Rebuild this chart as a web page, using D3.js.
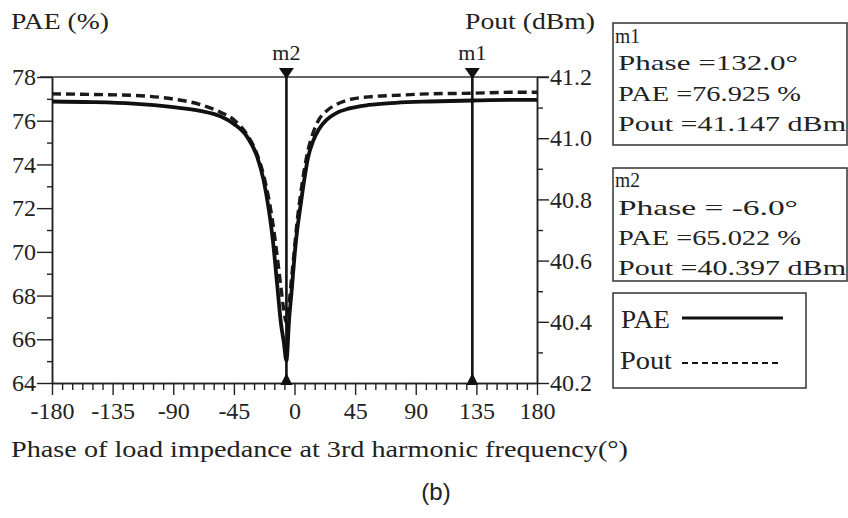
<!DOCTYPE html>
<html><head><meta charset="utf-8">
<script src="https://cdn.jsdelivr.net/npm/d3@7"></script>
<style>body{margin:0;background:#fff} svg text{font-family:"Liberation Serif","Times New Roman",Times,serif}</style>
</head><body><svg id="c" width="848" height="518"></svg>
<script>
// ---- data ----
const phase = [-180,-150,-120,-90,-70,-55,-45,-35,-28,-23,-19,-16,-13,-10,-8,-6,-4,-2,0,2,4,7,10,14,18,24,31,40,55,75,100,132,160,180];
const pae   = [76.88,76.85,76.78,76.62,76.45,76.2,75.85,75.25,74.4,73.3,71.9,70.5,68.6,66.7,65.9,65.022,66.9,68.3,69.8,71.0,71.9,73.2,74.3,75.1,75.6,76.05,76.35,76.55,76.72,76.82,76.88,76.925,76.95,76.95];
const pout  = [41.145,41.143,41.14,41.128,41.11,41.085,41.06,41.01,40.95,40.88,40.80,40.72,40.62,40.51,40.44,40.397,40.46,40.55,40.64,40.73,40.80,40.89,40.96,41.02,41.06,41.09,41.11,41.125,41.135,41.14,41.145,41.147,41.15,41.15];
const xTicks = [-180,-135,-90,-45,0,45,90,135,180];
const paeTicks = [64,66,68,70,72,74,76,78];
const poutTicks = [40.2,40.4,40.6,40.8,41.0,41.2];
const markerNames = ["m1","m2"];
const markerPhase = [132.0,-6.0];
const markerPAE = [76.925,65.022];
const markerPout = [41.147,40.397];
const legendNames = ["PAE","Pout"];

const FONT = '"Liberation Serif","Times New Roman",Times,serif';
const svg = d3.select("#c");
const x = d3.scaleLinear().domain([-180,180]).range([52,537]);
const yL = d3.scaleLinear().domain([64,78]).range([383,77]);
const yR = d3.scaleLinear().domain([40.2,41.2]).range([383,77]);

function styleAxis(g){
  g.attr("font-family",null).attr("font-size",null);
  g.selectAll("path.domain").attr("stroke","#222").attr("stroke-width",1.5);
  g.selectAll(".tick line").attr("stroke","#222").attr("stroke-width",1.4);
  g.selectAll(".tick text").attr("fill","#222").style("font-family",FONT).style("font-size","24px");
}
function txt(xp,yp,size,t){
  return svg.append("text").attr("x",xp).attr("y",yp).style("font-family",FONT)
    .style("font-size",size+"px").attr("fill","#222").text(t);
}

// frame top line
svg.append("line").attr("x1",x(-180)-12).attr("x2",x(180)+12).attr("y1",yL(78)).attr("y2",yL(78))
  .attr("stroke","#333").attr("stroke-width",1.4);

// minor ticks
const xMinor = d3.range(-180,180.01,7.5).filter(v=>v%45!==0);
svg.append("g").attr("transform",`translate(0,${yL(64)})`)
  .call(d3.axisBottom(x).tickValues(xMinor).tickSize(7).tickFormat("").tickSizeOuter(0)).call(styleAxis);
svg.append("g").attr("transform",`translate(${x(-180)},0)`)
  .call(d3.axisLeft(yL).tickValues(d3.range(65,78,2)).tickSize(5).tickFormat("").tickSizeOuter(0)).call(styleAxis);
svg.append("g").attr("transform",`translate(${x(180)},0)`)
  .call(d3.axisRight(yR).tickValues([40.3,40.5,40.7,40.9,41.1]).tickSize(6).tickFormat("").tickSizeOuter(0)).call(styleAxis);

// major axes
svg.append("g").attr("transform",`translate(0,${yL(64)})`)
  .call(d3.axisBottom(x).tickValues(xTicks).tickSize(12).tickPadding(7).tickSizeOuter(0)
    .tickFormat(d=>String(d))).call(styleAxis);
svg.append("g").attr("transform",`translate(${x(-180)},0)`)
  .call(d3.axisLeft(yL).tickValues(paeTicks).tickSize(15).tickPadding(1).tickSizeOuter(0)).call(styleAxis);
svg.append("g").attr("transform",`translate(${x(180)},0)`)
  .call(d3.axisRight(yR).tickValues(poutTicks).tickSize(12).tickPadding(1).tickSizeOuter(0)
    .tickFormat(d=>d.toFixed(1))).call(styleAxis);

// curves
const lineP = d3.line().x((d,i)=>x(phase[i])).y(d=>yL(d)).curve(d3.curveMonotoneX);
const lineQ = d3.line().x((d,i)=>x(phase[i])).y(d=>yR(d)).curve(d3.curveMonotoneX);
svg.append("path").attr("d",lineQ(pout)).attr("fill","none").attr("stroke","#1a1a1a")
  .attr("stroke-width",3.4).attr("stroke-dasharray","9,5");
svg.append("path").attr("d",lineP(pae)).attr("fill","none").attr("stroke","#111")
  .attr("stroke-width",3.8);

// markers
markerNames.forEach((n,i)=>{
  const mx = x(markerPhase[i]);
  const top = yL(78), bot = yL(64);
  svg.append("line").attr("x1",mx).attr("x2",mx).attr("y1",top-4).attr("y2",bot)
    .attr("stroke","#111").attr("stroke-width",2.6);
  svg.append("path").attr("d",`M${mx-7.5},${top-9}L${mx+7.5},${top-9}L${mx},${top+2}Z`).attr("fill","#111");
  svg.append("path").attr("d",`M${mx-6},${bot+2}L${mx+6},${bot+2}L${mx},${bot-10}Z`).attr("fill","#111");
  txt(mx,top-17,22,n).attr("text-anchor","middle");
});

// axis titles
txt(11,29,24,"PAE (%)").attr("textLength",98).attr("lengthAdjust","spacingAndGlyphs");
txt(465,29,24,"Pout (dBm)").attr("textLength",130).attr("lengthAdjust","spacingAndGlyphs");
txt(11,457,23,"Phase of load impedance at 3rd harmonic frequency(°)")
  .attr("textLength",617).attr("lengthAdjust","spacingAndGlyphs");
svg.append("text").attr("x",436).attr("y",500).attr("text-anchor","middle")
  .style("font-family","'Liberation Sans',Arial,sans-serif").style("font-size","24px").attr("fill","#222").text("(b)");

// marker readout boxes
function readout(i, top, bottom, ys){
  svg.append("rect").attr("x",613).attr("y",top).attr("width",234).attr("height",bottom-top)
    .attr("fill","#fff").attr("stroke","#333").attr("stroke-width",1.5);
  const lines = [
    markerNames[i],
    "Phase =" + (markerPhase[i]<0?" ":"") + markerPhase[i].toFixed(1) + "°",
    "PAE =" + markerPAE[i].toFixed(3) + " %",
    "Pout =" + markerPout[i].toFixed(3) + " dBm"
  ];
  const widths = [25,180,183,228];
  lines.forEach((t,k)=>{
    txt(k===0?615:618, ys[k], k===0?20:22, t).attr("textLength",widths[k])
      .attr("lengthAdjust","spacingAndGlyphs");
  });
}
readout(0,23,145,[43,70,101,131]);
readout(1,168,281,[187,215,245,275]);

// legend
svg.append("rect").attr("x",613).attr("y",293).attr("width",193).attr("height",95)
  .attr("fill","#fff").attr("stroke","#333").attr("stroke-width",1.5);
txt(621,328,26,legendNames[0]).attr("textLength",49).attr("lengthAdjust","spacingAndGlyphs");
txt(620,369,26,legendNames[1]).attr("textLength",52).attr("lengthAdjust","spacingAndGlyphs");
svg.append("line").attr("x1",682).attr("x2",783).attr("y1",318).attr("y2",318)
  .attr("stroke","#111").attr("stroke-width",3);
svg.append("line").attr("x1",682).attr("x2",781).attr("y1",363).attr("y2",363)
  .attr("stroke","#111").attr("stroke-width",2.2).attr("stroke-dasharray","6,4");
</script></body></html>
